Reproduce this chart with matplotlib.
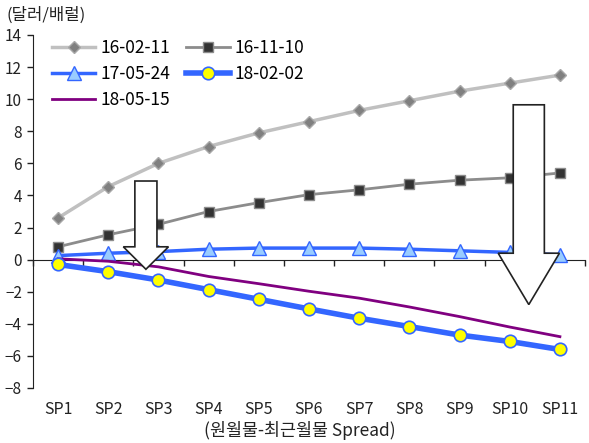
import numpy as np
import matplotlib
matplotlib.use("Agg")
import matplotlib.pyplot as plt
from matplotlib.patches import Polygon

plt.rcParams["font.family"] = ["Noto Sans CJK KR", "DejaVu Sans"]
plt.rcParams["axes.unicode_minus"] = False

categories = ["SP1", "SP2", "SP3", "SP4", "SP5", "SP6", "SP7", "SP8", "SP9", "SP10", "SP11"]
s_160211 = [2.6, 4.55, 6.0, 7.05, 7.9, 8.6, 9.3, 9.9, 10.5, 11.0, 11.5]
s_161110 = [0.8, 1.55, 2.2, 3.0, 3.55, 4.05, 4.35, 4.7, 4.95, 5.1, 5.4]
s_170524 = [0.25, 0.4, 0.5, 0.65, 0.72, 0.72, 0.72, 0.65, 0.55, 0.45, 0.3]
s_180202 = [-0.3, -0.75, -1.27, -1.87, -2.47, -3.07, -3.65, -4.17, -4.7, -5.1, -5.6]
s_180515 = [0.05, -0.1, -0.45, -1.05, -1.5, -1.97, -2.4, -2.95, -3.55, -4.2, -4.8]

INK = "#222222"
x = np.arange(1, len(categories) + 1)

fig = plt.figure(figsize=(5.89, 4.43), dpi=100)
ax = fig.add_axes([33/589, 1 - 388/443, (585 - 33)/589, (388 - 35)/443])

l1, = ax.plot(x, s_160211, color="#C0C0C0", lw=2.5, marker="D", ms=6.5,
              mfc="#808080", mec="#A8A8A8", label="16-02-11", zorder=3)
l2, = ax.plot(x, s_161110, color="#8C8C8C", lw=2, marker="s", ms=7.5,
              mfc="#333333", mec="#8C8C8C", label="16-11-10", zorder=3)
l3, = ax.plot(x, s_170524, color="#3366FF", lw=2.5, marker="^", ms=10,
              mfc="#99CCFF", mec="#3366FF", label="17-05-24", zorder=3)
l5, = ax.plot(x, s_180515, color="#800080", lw=2, label="18-05-15", zorder=3)
l4, = ax.plot(x, s_180202, color="#3366FF", lw=4, marker="o", ms=9,
              mfc="#FFFF00", mec="#3366FF", mew=1.2, label="18-02-02", zorder=3)

# hollow block arrows
def block_arrow(xc, top, tip, shaft_w, head_w, head_len):
    neck = tip + head_len
    pts = [(xc - shaft_w, top), (xc + shaft_w, top), (xc + shaft_w, neck),
           (xc + head_w, neck), (xc, tip), (xc - head_w, neck), (xc - shaft_w, neck)]
    ax.add_patch(Polygon(pts, closed=True, fc="white", ec=INK, lw=1.2, zorder=4))

block_arrow(2.75, 4.9, -0.6, 0.22, 0.45, 1.4)
block_arrow(10.38, 9.65, -2.8, 0.31, 0.61, 3.2)

ax.set_xlim(0.5, 11.5)
ax.set_ylim(-8, 14)
ax.set_yticks(range(-8, 15, 2))
ax.set_yticklabels([str(v).replace("-", "−") for v in range(-8, 15, 2)])
ax.tick_params(axis="y", direction="out", length=4, width=1, pad=4, labelsize=11, colors=INK)
ax.set_xticks(x)
ax.set_xticklabels(categories)
ax.tick_params(axis="x", length=0, pad=9, labelsize=11.5, colors=INK)
for s in ["top", "right", "bottom"]:
    ax.spines[s].set_visible(False)
ax.spines["left"].set_color(INK)

# zero line with ticks between categories
zero = ax.secondary_xaxis(8 / 22)
zero.set_xticks(np.arange(0.5, 12, 1))
zero.set_xticklabels([])
zero.tick_params(direction="out", length=4, width=1, colors=INK)
zero.spines["bottom"].set_color(INK)

ax.legend(handles=[l1, l3, l5, l2, l4], ncol=2, frameon=False, fontsize=12.5,
          loc="upper left", bbox_to_anchor=(52/589, 1 - 39/443),
          bbox_transform=fig.transFigure, borderpad=0, borderaxespad=0,
          handlelength=2.5, handletextpad=0.3, columnspacing=0.9, labelspacing=0.45)

fig.text(7/589, 1 - 15/443, "(달러/배럴)", fontsize=12, va="center", ha="left", color=INK)
fig.text(300/589, 1 - 431/443, "(원월물-최근월물 Spread)", fontsize=12.5, va="center", ha="center", color=INK)

fig.savefig("out.png", dpi=100)
